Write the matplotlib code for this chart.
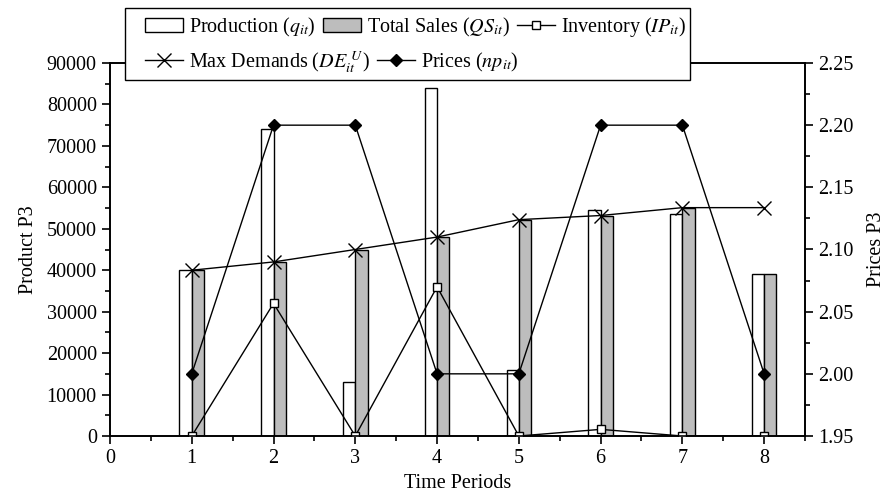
import numpy as np
import matplotlib.pyplot as plt
from matplotlib.ticker import MultipleLocator
from matplotlib.patches import Rectangle

plt.rcParams['font.family'] = ['Liberation Serif', 'DejaVu Serif']
plt.rcParams['mathtext.fontset'] = 'stix'
plt.rcParams['font.size'] = 14.5

periods = np.array([1, 2, 3, 4, 5, 6, 7, 8])
production = [40000, 74000, 13000, 84000, 16000, 54600, 53600, 39100]
total_sales = [40000, 42000, 45000, 48000, 52200, 53200, 55100, 39100]
inventory = [0, 32000, 0, 36000, 0, 1600, 0, 0]
max_demands = [40000, 42000, 45000, 48000, 52200, 53200, 55100, 55100]
prices = [2.00, 2.20, 2.20, 2.00, 2.00, 2.20, 2.20, 2.00]

fig = plt.figure(figsize=(8.87, 5), dpi=100)
ax = fig.add_axes([0.124, 0.128, 0.7836, 0.746])

bw = 0.15
b1 = ax.bar(periods - bw / 2, production, width=bw, color='white', edgecolor='black', linewidth=1, zorder=2)
b2 = ax.bar(periods + bw / 2, total_sales, width=bw, color='#bdbdbd', edgecolor='black', linewidth=1, zorder=2)
l_inv, = ax.plot(periods, inventory, '-', color='black', lw=1, marker='s', ms=6,
                 mfc='white', mec='black', mew=1, zorder=4)
l_dem, = ax.plot(periods, max_demands, '-', color='black', lw=1, marker='x', ms=10, mew=1, zorder=4)

ax.set_xlim(0, 8.5)
ax.set_ylim(0, 90000)
ax.xaxis.set_major_locator(MultipleLocator(1))
ax.xaxis.set_minor_locator(MultipleLocator(0.5))
ax.yaxis.set_major_locator(MultipleLocator(10000))
ax.yaxis.set_minor_locator(MultipleLocator(5000))
ax.tick_params(which='major', direction='out', length=6, width=1.2)
ax.tick_params(which='minor', direction='out', length=3.5, width=1.2)
ax.set_xlabel('Time Periods', labelpad=4)
ax.set_ylabel('Product P3', labelpad=6)

ax2 = ax.twinx()
l_pr, = ax2.plot(periods, prices, '-', color='black', lw=1, marker='D', ms=6, zorder=5)
ax2.set_ylim(1.95, 2.25)
ax2.yaxis.set_major_locator(MultipleLocator(0.05))
ax2.yaxis.set_minor_locator(MultipleLocator(0.025))
ax2.yaxis.set_major_formatter(plt.FormatStrFormatter('%.2f'))
ax2.tick_params(axis='y', which='major', direction='out', length=6, width=1.2)
ax2.tick_params(axis='y', which='minor', direction='out', length=3.5, width=1.2)
ax2.tick_params(axis='x', which='both', top=True, bottom=False, labeltop=False,
                labelbottom=False, direction='in', width=1.2)
ax2.tick_params(axis='x', which='major', length=6)
ax2.tick_params(axis='x', which='minor', length=3.5)
ax2.set_ylabel('Prices P3', labelpad=10)

for a in (ax, ax2):
    for s in a.spines.values():
        s.set_linewidth(1.2)

# legend: two rows inside one box
box = Rectangle((125 / 887, 1 - 80 / 500), 565 / 887, 72 / 500, transform=fig.transFigure,
                facecolor='white', edgecolor='black', linewidth=1, zorder=9)
fig.patches.append(box)

opts = dict(loc='center left', borderaxespad=0, borderpad=0, frameon=False,
            handlelength=1.9, columnspacing=0.35, handletextpad=0.3, fontsize=14.5)
leg1 = fig.legend([b1, b2, l_inv],
                  ['Production ($q_{it}$)', 'Total Sales ($QS_{it}$)', 'Inventory ($IP_{it}$)'],
                  bbox_to_anchor=(145 / 887, 1 - 27 / 500), ncol=3, **opts)
leg2 = fig.legend([l_dem, l_pr],
                  ['Max Demands ($DE_{it}^{\\ U}$)', 'Prices ($np_{it}$)'],
                  bbox_to_anchor=(145 / 887, 1 - 62 / 500), ncol=2, **opts)
leg1.set_zorder(10)
leg2.set_zorder(10)

fig.savefig('out.png', dpi=100)
